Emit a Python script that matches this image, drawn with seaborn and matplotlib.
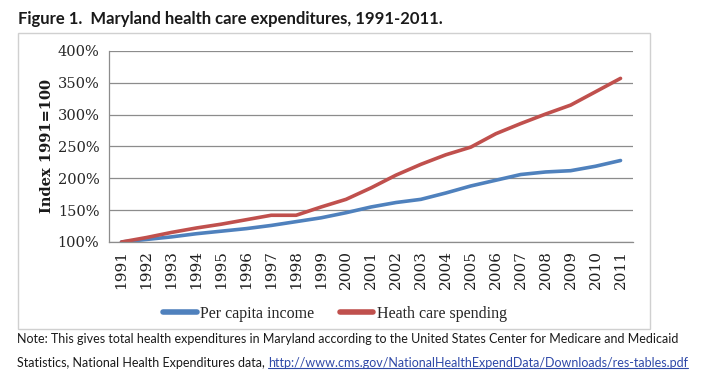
import matplotlib
matplotlib.use("Agg")
import matplotlib.pyplot as plt
import seaborn as sns
import pandas as pd
from matplotlib.patches import Rectangle
from matplotlib.lines import Line2D
from matplotlib.ticker import FuncFormatter, FixedLocator

years = [str(y) for y in range(1991, 2012)]
per_capita_income = [100, 104, 108, 113, 117, 121, 126, 132, 138, 146, 155,
                     162, 167, 177, 188, 197, 206, 210, 212, 219, 228]
health_spending = [100, 107, 115, 122, 128, 135, 142, 142, 155, 167, 185,
                   205, 222, 237, 249, 270, 286, 301, 315, 336, 357]
series_names = ["Per capita income", "Heath care spending"]
y_ticks = [100, 150, 200, 250, 300, 350, 400]

df = pd.DataFrame({
    "Year": years * 2,
    "Index": per_capita_income + health_spending,
    "Series": [series_names[0]] * len(years) + [series_names[1]] * len(years),
})

sns.set_theme(style="white")
plt.rcParams["font.family"] = ["DejaVu Serif"]

fig = plt.figure(figsize=(7.04, 3.76), dpi=100)
W, H = 704, 376
ax = fig.add_axes([109 / W, 1 - 242 / H, 524 / W, 191 / H])

palette = {series_names[0]: "#4F81BD", series_names[1]: "#C0504D"}
sns.lineplot(data=df, x="Year", y="Index", hue="Series", palette=palette,
             linewidth=2.6, ax=ax, legend=False, sort=False)

ax.set_xlim(-0.5, len(years) - 0.5)
ax.set_ylim(100, 400)
ax.yaxis.set_major_locator(FixedLocator(y_ticks))
ax.yaxis.set_major_formatter(FuncFormatter(lambda v, p: f"{int(v)}%"))
ax.grid(axis="y", color="#8c8c8c", linewidth=0.9)
ax.grid(axis="x", visible=False)
ax.set_axisbelow(True)
for s in ["top", "right"]:
    ax.spines[s].set_visible(False)
for s in ["left", "bottom"]:
    ax.spines[s].set_color("#8c8c8c")
    ax.spines[s].set_linewidth(0.9)

ax.set_xticks(range(len(years)))
ax.set_xticklabels(years, rotation=90, fontsize=11, color="#1f1f1f")
ax.set_xticks([i - 0.5 for i in range(len(years) + 1)], minor=True)
ax.tick_params(axis="x", which="major", length=0, pad=6)
ax.tick_params(axis="x", which="minor", length=4, color="#8c8c8c", width=0.9, direction="out")
ax.tick_params(axis="y", which="major", length=4, color="#8c8c8c", width=0.9,
               direction="out", labelsize=10.5, labelcolor="#262626", pad=3)
ax.set_xlabel("")
ax.set_ylabel("")
fig.text(47 / W, 1 - 146 / H, "Index 1991=100", rotation=90, fontsize=10.5,
         fontweight="bold", color="#1a1a1a", ha="center", va="center")

handles = [Line2D([], [], color=palette[n], linewidth=4) for n in series_names]
fig.legend(handles, series_names, loc="center", bbox_to_anchor=(335 / W, 1 - 314 / H),
           ncol=2, frameon=False, handlelength=2.1, handletextpad=0.2,
           columnspacing=1.6, prop={"family": "Liberation Serif", "size": 11.5})

# chart border
fig.patches.append(Rectangle((18 / W, 1 - 329 / H), (650 - 18) / W, (329 - 33) / H,
                             transform=fig.transFigure, fill=False,
                             edgecolor="#d0d0d0", linewidth=1.0))

fig.text(18 / W, 1 - 19 / H, "Figure 1.  Maryland health care expenditures, 1991-2011.",
         family=["Lato", "DejaVu Sans"], fontweight="bold", fontsize=12,
         color="#1a1a1a", va="center", ha="left")

note_font = dict(family=["Lato", "DejaVu Sans"], fontsize=9, color="#1a1a1a", va="center", ha="left")
fig.text(17 / W, 1 - 339 / H,
         "Note: This gives total health expenditures in Maryland according to the United States Center for Medicare and Medicaid",
         **note_font)
t2 = fig.text(17 / W, 1 - 363 / H, "Statistics, National Health Expenditures data, ", **note_font)
fig.canvas.draw()
r = fig.canvas.get_renderer()
bb = t2.get_window_extent(r)
x0 = bb.x1 / W
link_font = dict(note_font)
link_font["color"] = "#2f49a8"
t3 = fig.text(x0, 1 - 363 / H, "http://www.cms.gov/NationalHealthExpendData/Downloads/res-tables.pdf",
              **link_font)
fig.canvas.draw()
bb3 = t3.get_window_extent(r)
fig.lines.append(Line2D([bb3.x0 / W, bb3.x1 / W], [(bb3.y0 + 1) / H, (bb3.y0 + 1) / H],
                        transform=fig.transFigure, color="#2f49a8", linewidth=0.8))

fig.savefig("out.png", dpi=100)
